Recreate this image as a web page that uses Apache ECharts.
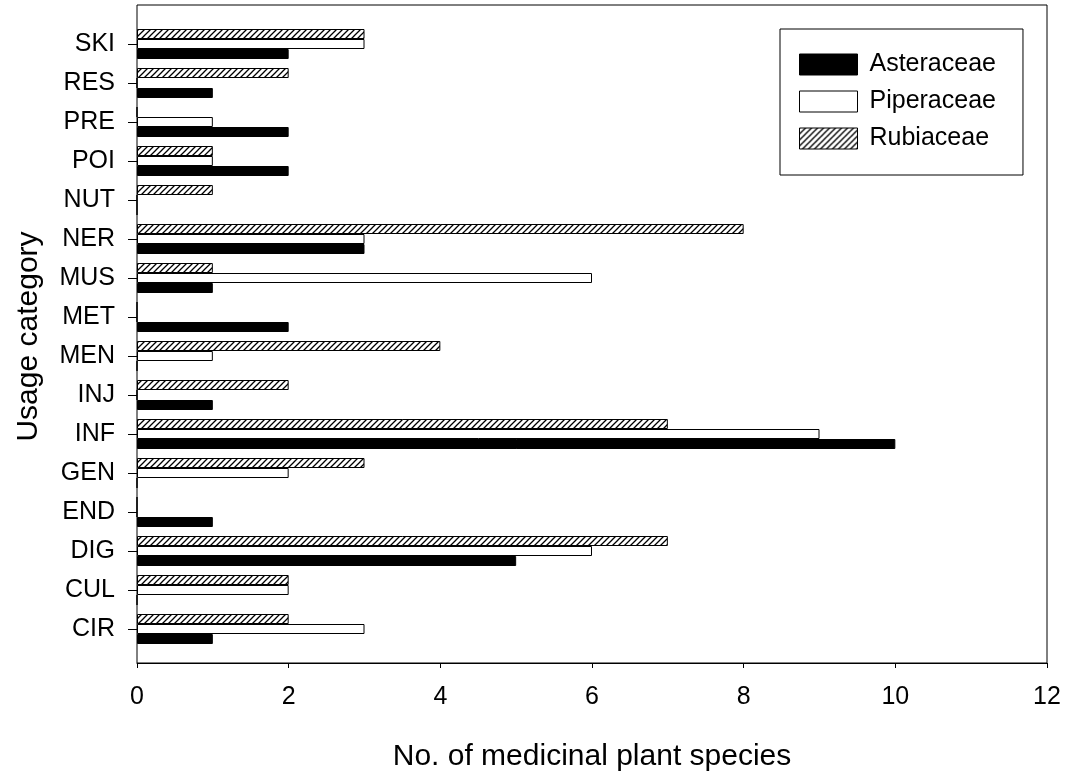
<!DOCTYPE html>
<html>
<head>
<meta charset="utf-8">
<script src="https://cdn.jsdelivr.net/npm/echarts@6/dist/echarts.min.js"></script>
<style>
html,body{margin:0;padding:0;background:#fff;}
#chart{width:1073px;height:777px;}
</style>
</head>
<body>
<div id="chart"></div>
<script>
// Categories listed bottom to top
const categories = ['CIR','CUL','DIG','END','GEN','INF','INJ','MEN','MET','MUS','NER','NUT','POI','PRE','RES','SKI'];
const asteraceae = [1,0,5,1,0,10,1,0,2,1,3,0,2,2,1,2];
const piperaceae = [3,2,6,0,2,9,0,1,0,6,3,0,1,1,0,3];
const rubiaceae  = [2,2,7,0,3,7,2,4,0,1,8,1,1,0,2,3];
const xTicks = [0,2,4,6,8,10,12];

const FONT = "'Liberation Sans', Arial, sans-serif";

function hatch() {
  const s = 6;
  const c = document.createElement('canvas');
  c.width = s; c.height = s;
  const g = c.getContext('2d');
  g.fillStyle = '#fff';
  g.fillRect(0,0,s,s);
  g.strokeStyle = '#000';
  g.lineWidth = 1.3;
  g.beginPath();
  g.moveTo(-1, s+1); g.lineTo(s+1, -1);
  g.moveTo(-1, 1); g.lineTo(1, -1);
  g.moveTo(s-1, s+1); g.lineTo(s+1, s-1);
  g.stroke();
  return {image: c, repeat: 'repeat'};
}

const chart = echarts.init(document.getElementById('chart'), null, {renderer: 'canvas'});
chart.setOption({
  animation: false,
  backgroundColor: '#fff',
  textStyle: {fontFamily: FONT, color: '#000'},
  grid: [
    {left: 137, right: 26, top: 5, bottom: 110, show: true, borderColor: '#000', borderWidth: 1, backgroundColor: 'transparent'},
    {left: 137, right: 26, top: 24.5, bottom: 128.5}
  ],
  xAxis: [
    {type: 'value', gridIndex: 0, min: xTicks[0], max: xTicks[xTicks.length-1], interval: 2,
     axisLine: {show: true, lineStyle: {color: '#000', width: 1}},
     axisTick: {show: true, inside: false, length: 5, lineStyle: {color: '#000'}},
     axisLabel: {fontSize: 25, color: '#000', fontFamily: FONT, margin: 22},
     splitLine: {show: false},
     name: 'No. of medicinal plant species', nameLocation: 'middle', nameGap: 79,
     nameTextStyle: {fontSize: 30, color: '#000', fontFamily: FONT}},
    {type: 'value', gridIndex: 1, min: 0, max: 12, show: false}
  ],
  yAxis: [
    {type: 'value', gridIndex: 0, show: false, min: 0, max: 1},
    {type: 'category', gridIndex: 1, data: categories,
     axisLine: {show: false},
     axisTick: {show: true, alignWithLabel: true, length: 9, lineStyle: {color: '#000'}},
     axisLabel: {fontSize: 25, color: '#000', fontFamily: FONT, margin: 22},
     name: 'Usage category', nameLocation: 'middle', nameGap: 93, nameRotate: 90,
     nameTextStyle: {fontSize: 30, color: '#000', fontFamily: FONT}}
  ],
  legend: {
    orient: 'vertical', left: 780, top: 29,
    itemWidth: 58, itemHeight: 21, itemGap: 12,
    padding: [23, 27, 24, 19],
    borderColor: '#000', borderWidth: 1,
    icon: 'rect',
    itemStyle: {borderColor: '#000', borderWidth: 1},
    textStyle: {fontSize: 25, color: '#000', fontFamily: FONT, padding: [0,0,0,7]},
    data: ['Asteraceae','Piperaceae','Rubiaceae']
  },
  series: [
    {name: 'Rubiaceae', type: 'bar', xAxisIndex: 1, yAxisIndex: 1, data: rubiaceae,
     barWidth: 10, barGap: '0%',
     itemStyle: {color: hatch(), borderColor: '#000', borderWidth: 1}},
    {name: 'Piperaceae', type: 'bar', xAxisIndex: 1, yAxisIndex: 1, data: piperaceae,
     barWidth: 10, barGap: '0%',
     itemStyle: {color: '#fff', borderColor: '#000', borderWidth: 1}},
    {name: 'Asteraceae', type: 'bar', xAxisIndex: 1, yAxisIndex: 1, data: asteraceae,
     barWidth: 10, barGap: '0%',
     itemStyle: {color: '#000', borderColor: '#000', borderWidth: 1}}
  ]
});
</script>
</body>
</html>
